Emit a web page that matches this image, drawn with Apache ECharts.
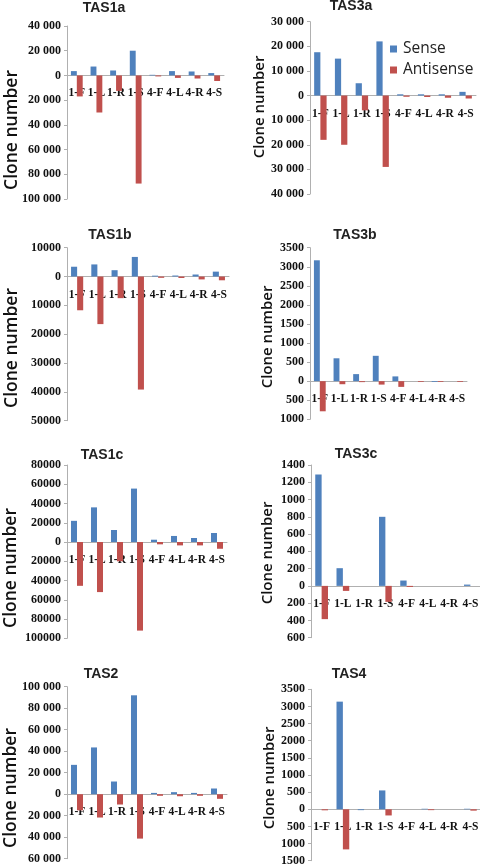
<!DOCTYPE html>
<html>
<head>
<meta charset="utf-8">
<script src="https://cdn.jsdelivr.net/npm/echarts@6/dist/echarts.min.js"></script>
<style>
html,body{margin:0;padding:0;background:#fff;}
#main{width:480px;height:866px;}
</style>
</head>
<body>
<div id="main"></div>
<script>
var categories = ['1-F','1-L','1-R','1-S','4-F','4-L','4-R','4-S'];
var seriesNames = ['Sense','Antisense'];
var panelTitles = ['TAS1a','TAS3a','TAS1b','TAS3b','TAS1c','TAS3c','TAS2','TAS4'];

var tas1aSense = [3500, 7200, 4000, 20000, 500, 3500, 3200, 1900];
var tas1aAnti  = [-17000, -30000, -12500, -87500, -800, -2000, -2500, -4500];
var tas3aSense = [17600, 15000, 5000, 22000, 500, 500, 500, 1500];
var tas3aAnti  = [-18000, -20000, -6000, -29000, -500, -600, -900, -1200];
var tas1bSense = [3400, 4200, 2200, 6800, 300, 350, 700, 1700];
var tas1bAnti  = [-11700, -16500, -7500, -39200, -450, -500, -1000, -1300];
var tas3bSense = [3170, 600, 185, 665, 125, 0, -20, 0];
var tas3bAnti  = [-790, -80, -25, -90, -150, -20, -20, -20];
var tas1cSense = [22000, 36000, 12500, 55500, 2400, 6300, 4200, 9400];
var tas1cAnti  = [-45500, -52000, -20000, -92000, -2400, -3500, -3500, -7000];
var tas3cSense = [1290, 205, 0, 800, 62, 0, 0, 15];
var tas3cAnti  = [-385, -58, 0, -185, -12, 0, 0, 0];
var tas2Sense  = [27300, 43500, 11800, 92000, 1200, 1900, 1200, 5300];
var tas2Anti   = [-15000, -21700, -9600, -41300, -1500, -1900, -1500, -4300];
var tas4Sense  = [0, 3140, -25, 550, 0, 15, 0, 15];
var tas4Anti   = [-30, -1170, 0, -180, 0, -25, 0, -40];

// y-axis ranges (min, max, interval) per panel
var yMins      = [-100000, -40000, -50000, -1000, -100000, -600, -60000, -1500];
var yMaxs      = [40000, 30000, 10000, 3500, 80000, 1400, 100000, 3500];
var yIntervals = [20000, 10000, 10000, 500, 20000, 200, 20000, 500];
var spacedThousands = [true, true, false, false, false, false, true, false];

var senseData = [tas1aSense, tas3aSense, tas1bSense, tas3bSense, tas1cSense, tas3cSense, tas2Sense, tas4Sense];
var antiData  = [tas1aAnti, tas3aAnti, tas1bAnti, tas3bAnti, tas1cAnti, tas3cAnti, tas2Anti, tas4Anti];

// layout (pixels)
var grids = [
  {left: 67,  top: 26,    width: 157, height: 173},
  {left: 310, top: 21.7,  width: 166, height: 172.3},
  {left: 67,  top: 247.7, width: 162, height: 173},
  {left: 310, top: 247.7, width: 157, height: 171.6},
  {left: 67,  top: 465,   width: 160, height: 173.3},
  {left: 311, top: 465,   width: 170, height: 172.7},
  {left: 67,  top: 686.7, width: 160, height: 172},
  {left: 311, top: 689.3, width: 170, height: 171.4}
];
var titlePos = [[104,8],[351,6],[110,235],[355,235],[102,455],[356,454],[101,674],[349,674]];
var yNamePos = [[12,130],[260,107],[12,348],[268,337],[11,568],[268,553],[11,788],[270,778]];

var BLUE = '#4F81BD', RED = '#C0504D';

function fmt(v, spaced) {
  var s = String(Math.abs(Math.round(v)));
  if (spaced && s.length > 3) s = s.slice(0, s.length - 3) + ' ' + s.slice(s.length - 3);
  return s;
}

var option = {
  backgroundColor: '#fff',
  animation: false,
  legend: {
    data: seriesNames,
    orient: 'vertical',
    left: 390, top: 41,
    padding: 0,
    itemGap: 5,
    itemWidth: 7, itemHeight: 7,
    icon: 'rect',
    textStyle: {fontFamily: 'Open Sans', fontSize: 15.5, color: '#222', padding: [0,0,0,1]}
  },
  grid: [], xAxis: [], yAxis: [], series: [], graphic: []
};

for (var i = 0; i < 8; i++) {
  var g = grids[i];
  // shift the category axis (line + labels) up from the grid bottom to the value-axis zero
  var zeroShift = g.height * (0 - yMins[i]) / (yMaxs[i] - yMins[i]);
  option.grid.push({left: g.left, top: g.top, width: g.width, height: g.height, containLabel: false, outerBoundsMode: 'none'});
  option.xAxis.push({
    type: 'category', gridIndex: i, data: categories, position: 'bottom', offset: -zeroShift,
    axisLine: {onZero: false, lineStyle: {color: '#b0b0b0', width: 1}},
    axisTick: {show: false},
    axisLabel: {interval: 0, margin: 12, fontFamily: 'Liberation Serif', fontWeight: 'bold', fontSize: 11.5, color: '#111'},
    splitLine: {show: false}
  });
  (function (idx) {
    option.yAxis.push({
      type: 'value', gridIndex: idx, min: yMins[idx], max: yMaxs[idx], interval: yIntervals[idx],
      axisLine: {show: true, lineStyle: {color: '#b0b0b0', width: 1}},
      axisTick: {show: true, length: 3, lineStyle: {color: '#b0b0b0'}},
      splitLine: {show: false},
      axisLabel: {margin: 6, fontFamily: 'Liberation Serif', fontWeight: 'bold', fontSize: 12, color: '#111',
        formatter: function (v) { return fmt(v, spacedThousands[idx]); }}
    });
  })(i);
  option.series.push({
    name: seriesNames[0], type: 'bar', xAxisIndex: i, yAxisIndex: i, data: senseData[i],
    itemStyle: {color: BLUE}, barGap: '0%', barCategoryGap: '40%'
  });
  option.series.push({
    name: seriesNames[1], type: 'bar', xAxisIndex: i, yAxisIndex: i, data: antiData[i],
    itemStyle: {color: RED}, barGap: '0%', barCategoryGap: '40%', z: 1
  });
  option.graphic.push({
    type: 'text', x: titlePos[i][0], y: titlePos[i][1],
    style: {text: panelTitles[i], fill: '#222', font: 'bold 14px "Liberation Sans"', textAlign: 'center', textVerticalAlign: 'middle'}
  });
  var left = (i % 2 === 0);
  option.graphic.push({
    type: 'text', x: yNamePos[i][0], y: yNamePos[i][1], rotation: Math.PI / 2,
    style: {text: 'Clone number', fill: '#111', font: '600 ' + (left ? 17.5 : 15) + 'px "Open Sans"', textAlign: 'center', textVerticalAlign: 'middle'}
  });
}

var chart = echarts.init(document.getElementById('main'), null, {renderer: 'canvas'});
chart.setOption(option);
</script>
</body>
</html>
